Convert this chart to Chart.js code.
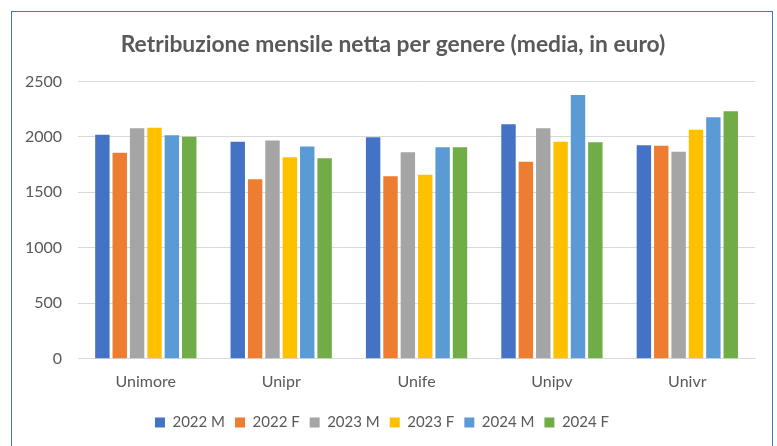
<!DOCTYPE html>
<html>
<head>
<meta charset="utf-8">
<script src="https://cdn.jsdelivr.net/npm/chart.js@4"></script>
<style>
  body { margin: 0; background: #fff; }
  #frame {
    position: absolute; left: 11px; top: 11px; width: 762px; height: 460px;
    border: 1.5px solid #4472C4; box-sizing: border-box;
  }
  #chart { position: absolute; left: 0; top: 0; }
</style>
</head>
<body>
<div id="frame"></div>
<canvas id="chart" width="777" height="446"></canvas>
<script>
// Data
const categories = ["Unimore", "Unipr", "Unife", "Unipv", "Univr"];
const seriesNames = ["2022 M", "2022 F", "2023 M", "2023 F", "2024 M", "2024 F"];
const m2022 = [2018, 1955, 1997, 2114, 1925];
const f2022 = [1856, 1619, 1646, 1775, 1919];
const m2023 = [2078, 1967, 1862, 2078, 1865];
const f2023 = [2081, 1817, 1658, 1955, 2063];
const m2024 = [2015, 1913, 1907, 2378, 2177];
const f2024 = [2000, 1807, 1907, 1952, 2231];
const yTicks = [0, 500, 1000, 1500, 2000, 2500];

const colors = ["#4472C4", "#ED7D31", "#A5A5A5", "#FFC000", "#5B9BD5", "#70AD47"];
const values = [m2022, f2022, m2023, f2023, m2024, f2024];

const font = "Lato, 'Open Sans', sans-serif";
const textColor = "#595959";

// the title sits a bit right of the legend's centre in the original
const titleShift = {
  id: "titleShift",
  afterLayout(chart) {
    if (chart.titleBlock) {
      chart.titleBlock.left += 11;
      chart.titleBlock.right += 11;
    }
  },
};

new Chart(document.getElementById("chart"), {
  type: "bar",
  data: {
    labels: categories,
    datasets: seriesNames.map((name, i) => ({
      label: name,
      data: values[i],
      backgroundColor: colors[i],
      categoryPercentage: 0.77,
      barPercentage: 0.83,
    })),
  },
  options: {
    responsive: false,
    animation: false,
    layout: { padding: { left: 9, right: 22, top: 31, bottom: 6 } },
    plugins: {
      title: {
        display: true,
        text: "Retribuzione mensile netta per genere (media, in euro)",
        color: textColor,
        font: { family: font, size: 22.8, weight: "bold" },
        padding: { top: 0, bottom: 23 },
      },
      legend: {
        position: "bottom",
        labels: {
          color: textColor,
          font: { family: font, size: 15 },
          boxWidth: 10,
          boxHeight: 10,
          padding: 10,
        },
      },
      tooltip: { enabled: false },
    },
    scales: {
      x: {
        grid: { display: false },
        border: { color: "#D9D9D9" },
        ticks: { color: textColor, font: { family: font, size: 16 }, padding: 5, maxRotation: 0 },
        afterFit: (scale) => { scale.height += 9; },
      },
      y: {
        min: 0,
        max: 2500,
        afterBuildTicks: (axis) => { axis.ticks = yTicks.map((v) => ({ value: v })); },
        grid: { color: "#D9D9D9", drawTicks: false },
        border: { display: false },
        ticks: {
          color: textColor,
          font: { family: font, size: 16 },
          padding: 16,
          callback: (v) => String(v),
        },
      },
    },
  },
  plugins: [titleShift],
});
</script>
</body>
</html>
